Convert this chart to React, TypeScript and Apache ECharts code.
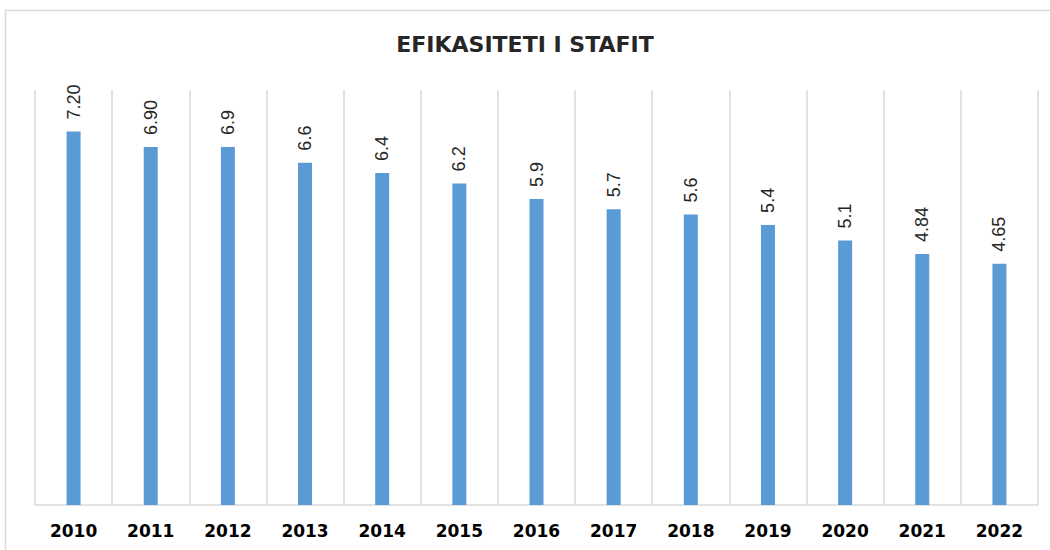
import React, { useEffect, useRef } from "react";
import * as echarts from "echarts";

const categories = ["2010", "2011", "2012", "2013", "2014", "2015", "2016", "2017", "2018", "2019", "2020", "2021", "2022"];
const values = [7.2, 6.9, 6.9, 6.6, 6.4, 6.2, 5.9, 5.7, 5.6, 5.4, 5.1, 4.84, 4.65];
const valueLabels = ["7.20", "6.90", "6.9", "6.6", "6.4", "6.2", "5.9", "5.7", "5.6", "5.4", "5.1", "4.84", "4.65"];
const titleText = "EFIKASITETI I STAFIT";

export default function App() {
  const ref = useRef<HTMLDivElement>(null);
  useEffect(() => {
    if (!ref.current) return;
    const chart = echarts.init(ref.current, null, { renderer: "svg" });
    chart.setOption({
      animation: false,
      backgroundColor: "#ffffff",
      title: {
        text: titleText,
        left: "center",
        top: 28,
        textStyle: { fontFamily: "DejaVu Sans", fontSize: 22, fontWeight: "bold", color: "#262626" },
      },
      graphic: [
        {
          type: "rect",
          shape: { x: 5.5, y: 10.5, width: 1060, height: 560 },
          style: { fill: "none", stroke: "#d9d9d9", lineWidth: 1.5 },
          silent: true,
          z: -1,
        },
      ],
      grid: { left: 35, right: 12, top: 90, bottom: 45 },
      xAxis: {
        type: "category",
        data: categories,
        boundaryGap: true,
        axisLine: { show: true, lineStyle: { color: "#d9d9d9", width: 1.5 } },
        axisTick: { show: false },
        splitLine: { show: true, interval: 0, lineStyle: { color: "#d9d9d9", width: 1.5 } },
        axisLabel: {
          interval: 0,
          margin: 17,
          fontFamily: "DejaVu Sans",
          fontSize: 17,
          fontWeight: "bold",
          color: "#000000",
        },
      },
      yAxis: {
        type: "value",
        min: 0,
        max: 8,
        show: false,
        splitLine: { show: false },
      },
      series: [
        {
          type: "bar",
          data: values,
          barWidth: 14,
          itemStyle: { color: "#5b9bd5" },
          label: {
            show: true,
            position: "top",
            rotate: 90,
            align: "left",
            verticalAlign: "middle",
            distance: 12,
            fontFamily: "Liberation Sans",
            fontSize: 18,
            color: "#262626",
            formatter: (p: any) => valueLabels[p.dataIndex],
          },
        },
      ],
    });
    return () => chart.dispose();
  }, []);
  return <div ref={ref} style={{ position: "fixed", left: 0, top: 0, width: 1050, height: 550 }} />;
}
